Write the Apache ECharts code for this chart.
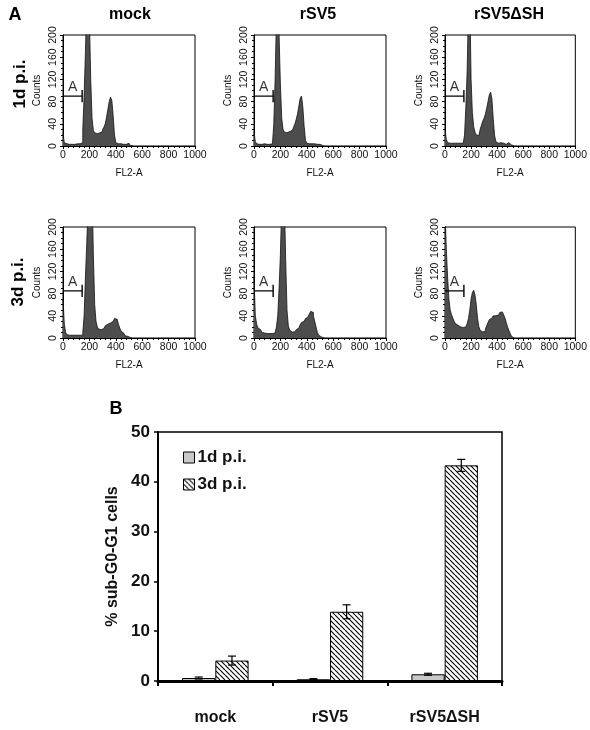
<!DOCTYPE html>
<html><head><meta charset="utf-8">
<script src="https://cdn.jsdelivr.net/npm/echarts@6/dist/echarts.min.js"></script>
<style>html,body{margin:0;padding:0;background:#fff}#c{width:590px;height:730px}</style>
</head><body><div id="c"></div><script>
const FONT = '"Liberation Sans", Arial, sans-serif';

// ---------- Panel A: flow cytometry histograms ----------
const panelTitles = ['mock', 'rSV5', 'rSV5\u0394SH'];
const rowTitles = ['1d p.i.', '3d p.i.'];
const histXTicks = [0, 200, 400, 600, 800, 1000];
const histYTicks = [0, 40, 80, 120, 160, 200];
const binWidth = 10; // FL2-A units per bin; value i covers [i*10, i*10+10)

const mock1d = [22,6,4,3,3,4,3,4,3,3,4,5,4,5,6,30,90,170,260,280,230,120,50,28,24,22,22,24,22,26,30,34,40,52,66,80,88,82,55,20,6,4,3,4,3,3,2,3,4,5,3,1,0];
const rsv5_1d = [25,8,4,3,4,3,3,4,3,3,4,3,4,4,4,40,120,230,280,200,110,50,30,25,24,25,26,27,28,30,34,40,48,58,72,86,90,70,35,10,5,4,3,4,3,4,3,3,4,3,3,1,0];
const dsh_1d = [30,12,6,5,4,5,4,5,4,5,4,5,4,5,5,20,70,135,250,280,120,60,35,25,20,19,22,30,38,45,50,58,68,80,92,97,85,50,20,8,5,4,6,3,5,4,3,5,6,3,2,1,0];
const mock3d = [70,25,10,6,5,4,5,4,5,4,5,4,5,4,5,10,40,110,170,240,290,300,270,150,60,30,20,16,15,15,17,20,22,25,26,27,28,30,33,35,34,32,25,18,12,9,6,4,3,2,1,0];
const rsv5_3d = [110,40,25,18,15,12,10,9,8,8,8,8,8,8,8,9,12,20,40,90,150,240,290,250,140,50,22,14,11,10,11,13,15,18,20,24,28,30,32,35,38,40,44,48,46,40,30,20,10,5,2,1,0];
const dsh_3d = [230,160,110,70,50,42,36,30,26,23,22,20,20,19,18,20,22,26,35,50,70,82,86,78,60,35,20,14,11,10,12,16,22,28,33,36,38,40,40,42,41,43,46,47,45,42,36,28,20,14,8,3,0];

const histData = [[mock1d, rsv5_1d, dsh_1d], [mock3d, rsv5_3d, dsh_3d]];
const gateEnd = 145;          // right end of gate "A"
const gateLevel = [90, 85];   // gate height per row (counts)

// ---------- Panel B: bar chart ----------
const barCategories = ['mock', 'rSV5', 'rSV5\u0394SH'];
const barSeriesNames = ['1d p.i.', '3d p.i.'];
const sub1d = [0.6, 0.35, 1.35];
const sub1dErr = [0.2, 0.12, 0.2];
const sub3d = [4.1, 13.9, 43.3];
const sub3dErr = [0.9, 1.4, 1.2];
const barYTicks = [0, 10, 20, 30, 40, 50];

// ---------- layout ----------
const colLeft = [63, 254, 445];
const rowTop = [35, 227];
const pw = 132, ph = 111;

function hatch() {
  const n = 5;
  const c = document.createElement('canvas');
  c.width = n; c.height = n;
  const g = c.getContext('2d');
  g.fillStyle = '#fff'; g.fillRect(0, 0, n, n);
  g.strokeStyle = '#000'; g.lineWidth = 1.1;
  g.beginPath();
  for (let o = -n; o <= n; o += n) { g.moveTo(o, 0); g.lineTo(o + n, n); }
  g.stroke();
  return c;
}
const hatchFill = { image: hatch(), repeat: 'repeat' };

const grid = [], xAxis = [], yAxis = [], series = [];
let gi = 0;
for (let r = 0; r < 2; r++) {
  for (let c = 0; c < 3; c++) {
    grid.push({ left: colLeft[c], top: rowTop[r], width: pw, height: ph, show: true, borderColor: '#000', borderWidth: 1, containLabel: false });
    xAxis.push({
      gridIndex: gi, type: 'value', min: histXTicks[0], max: histXTicks[histXTicks.length - 1], interval: histXTicks[1] - histXTicks[0],
      name: 'FL2-A', nameLocation: 'middle', nameGap: 22, nameTextStyle: { fontFamily: FONT, fontSize: 10, color: '#111' },
      axisLine: { lineStyle: { color: '#000', width: 1 } },
      axisTick: { length: 3, lineStyle: { color: '#000' } },
      minorTick: { show: true, splitNumber: 5, length: 2, lineStyle: { color: '#000' } },
      axisLabel: { fontFamily: FONT, fontSize: 10.5, color: '#111', margin: 4, formatter: v => String(v) },
      splitLine: { show: false }
    });
    yAxis.push({
      gridIndex: gi, type: 'value', min: histYTicks[0], max: histYTicks[histYTicks.length - 1], interval: histYTicks[1] - histYTicks[0],
      name: 'Counts', nameLocation: 'middle', nameGap: 21, nameTextStyle: { fontFamily: FONT, fontSize: 10, color: '#111' },
      axisLine: { lineStyle: { color: '#000', width: 1 } },
      axisTick: { length: 3, lineStyle: { color: '#000' } },
      minorTick: { show: true, splitNumber: 4, length: 2, lineStyle: { color: '#000' } },
      axisLabel: { fontFamily: FONT, fontSize: 10.5, color: '#111', rotate: 90, margin: 4, formatter: v => String(v) },
      splitLine: { show: false }
    });
    const arr = histData[r][c];
    const pts = arr.map((v, i) => [i * binWidth, v]);
    pts.push([arr.length * binWidth, 0]);
    series.push({
      type: 'line', name: 'hist' + gi, xAxisIndex: gi, yAxisIndex: gi, data: pts, step: 'end',
      symbol: 'none', lineStyle: { color: '#111', width: 0.8 }, areaStyle: { color: '#4d4d4d', opacity: 1 }, clip: true, silent: true
    });
    const gy = gateLevel[r];
    series.push({
      type: 'line', name: 'gateH' + gi, xAxisIndex: gi, yAxisIndex: gi, data: [[0, gy], [gateEnd, gy]],
      symbol: 'none', lineStyle: { color: '#000', width: 1.2 }, silent: true, z: 5
    });
    series.push({
      type: 'line', name: 'gateV' + gi, xAxisIndex: gi, yAxisIndex: gi, data: [[gateEnd, gy - 11], [gateEnd, gy + 11]],
      symbol: 'none', lineStyle: { color: '#000', width: 1.4 }, silent: true, z: 5
    });
    series.push({
      type: 'scatter', name: 'gateA' + gi, xAxisIndex: gi, yAxisIndex: gi, data: [[gateEnd / 2, gy]],
      symbolSize: 0, silent: true, z: 6,
      label: { show: true, position: 'top', distance: 2, formatter: 'A', fontFamily: FONT, fontSize: 14, color: '#000' }
    });
    gi++;
  }
}

// bar chart grid
grid.push({ left: 158, top: 432, width: 344, height: 249, show: true, borderColor: '#000', borderWidth: 1.5, containLabel: false });
xAxis.push({
  gridIndex: gi, type: 'category', data: barCategories,
  axisLine: { lineStyle: { color: '#000', width: 3 } },
  axisTick: { show: true, length: 5, interval: 0, alignWithLabel: false, lineStyle: { color: '#000', width: 2 } },
  axisLabel: { fontFamily: FONT, fontSize: 16, fontWeight: 'bold', color: '#111', margin: 29 }
});
yAxis.push({
  gridIndex: gi, type: 'value', min: barYTicks[0], max: barYTicks[barYTicks.length - 1], interval: barYTicks[1] - barYTicks[0],
  name: '% sub-G0-G1 cells', nameLocation: 'middle', nameGap: 36,
  nameTextStyle: { fontFamily: FONT, fontSize: 16, fontWeight: 'bold', color: '#111' },
  axisLine: { show: true, lineStyle: { color: '#000', width: 2 } },
  axisTick: { show: true, length: 4, lineStyle: { color: '#000', width: 1.5 } },
  axisLabel: { fontFamily: FONT, fontSize: 17, fontWeight: 'bold', color: '#111', margin: 8 },
  splitLine: { show: false }
});
series.push({
  type: 'bar', name: barSeriesNames[0], xAxisIndex: gi, yAxisIndex: gi, data: sub1d,
  barWidth: '29%', barGap: '0%', itemStyle: { color: '#c8c8c8', borderColor: '#000', borderWidth: 1 }, silent: true
});
series.push({
  type: 'bar', name: barSeriesNames[1], xAxisIndex: gi, yAxisIndex: gi, data: sub3d,
  barWidth: '29%', barGap: '0%', itemStyle: { color: hatchFill, borderColor: '#000', borderWidth: 1 }, silent: true
});
function errSeries(vals, errs, side) {
  return {
    type: 'custom', name: 'err' + side, xAxisIndex: gi, yAxisIndex: gi, z: 10, silent: true,
    data: vals.map((v, i) => [i, v, errs[i]]),
    renderItem: function (params, api) {
      const band = api.size([1, 0])[0];
      const cx = api.coord([api.value(0), 0])[0] + side * 0.145 * band;
      const v = api.value(1), e = api.value(2);
      const top = api.coord([api.value(0), v + e])[1];
      const bot = api.coord([api.value(0), Math.max(0, v - e)])[1];
      const cap = 4;
      const st = { stroke: '#000', lineWidth: 1.2 };
      return { type: 'group', children: [
        { type: 'line', shape: { x1: cx, y1: top, x2: cx, y2: bot }, style: st },
        { type: 'line', shape: { x1: cx - cap, y1: top, x2: cx + cap, y2: top }, style: st },
        { type: 'line', shape: { x1: cx - cap, y1: bot, x2: cx + cap, y2: bot }, style: st }
      ] };
    }
  };
}
series.push(errSeries(sub1d, sub1dErr, -1));
series.push(errSeries(sub3d, sub3dErr, 1));

const graphic = [
  { type: 'text', x: 15, y: 15, style: { text: 'A', font: 'bold 18px ' + FONT, fill: '#000', textAlign: 'center', textVerticalAlign: 'middle' } },
  { type: 'text', x: 116, y: 409, style: { text: 'B', font: 'bold 18px ' + FONT, fill: '#000', textAlign: 'center', textVerticalAlign: 'middle' } },
  { type: 'text', x: 130, y: 15, style: { text: panelTitles[0], font: 'bold 16px ' + FONT, fill: '#000', textAlign: 'center', textVerticalAlign: 'middle' } },
  { type: 'text', x: 318, y: 15, style: { text: panelTitles[1], font: 'bold 16px ' + FONT, fill: '#000', textAlign: 'center', textVerticalAlign: 'middle' } },
  { type: 'text', x: 509, y: 15, style: { text: panelTitles[2], font: 'bold 16px ' + FONT, fill: '#000', textAlign: 'center', textVerticalAlign: 'middle' } },
  { type: 'text', x: 20, y: 84, rotation: Math.PI / 2, style: { text: rowTitles[0], font: 'bold 17px ' + FONT, fill: '#000', textAlign: 'center', textVerticalAlign: 'middle' } },
  { type: 'text', x: 18, y: 282, rotation: Math.PI / 2, style: { text: rowTitles[1], font: 'bold 17px ' + FONT, fill: '#000', textAlign: 'center', textVerticalAlign: 'middle' } }
];

const chart = echarts.init(document.getElementById('c'), null, { renderer: 'canvas' });
chart.setOption({
  backgroundColor: '#fff',
  animation: false,
  grid, xAxis, yAxis, series, graphic,
  legend: {
    data: barSeriesNames, orient: 'vertical', left: 178, top: 444, itemGap: 10, itemWidth: 11, itemHeight: 11,
    icon: 'rect', selectedMode: false,
    itemStyle: { borderColor: '#000', borderWidth: 1 },
    textStyle: { fontFamily: FONT, fontSize: 17, fontWeight: 'bold', color: '#111', padding: [0, 0, 0, -2] }
  }
});
</script></body></html>
